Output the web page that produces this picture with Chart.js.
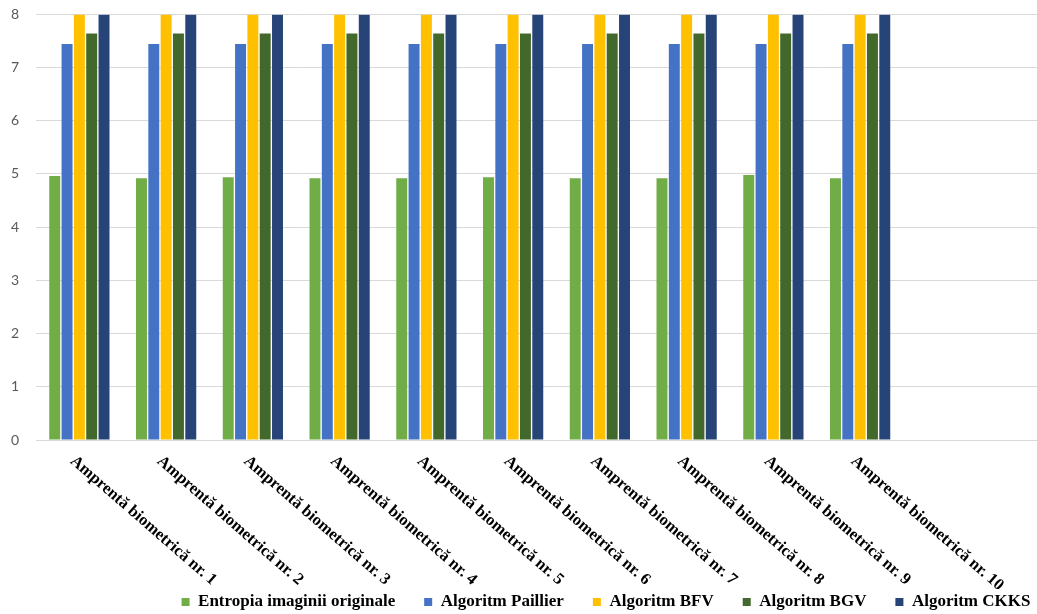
<!DOCTYPE html>
<html>
<head>
<meta charset="utf-8">
<title>Entropia amprentelor biometrice</title>
<script src="https://cdn.jsdelivr.net/npm/chart.js@4/dist/chart.umd.min.js"></script>
<style>
  html, body { margin: 0; padding: 0; background: #ffffff; overflow: hidden; }
  #wrap { width: 1037px; height: 614px; overflow: hidden; position: relative; }
  canvas { display: block; }
</style>
</head>
<body>
<div id="wrap"><canvas id="chart" width="1077" height="614"></canvas></div>
<script>
// Categories (two trailing empty slots keep the plot running on to the right)
const categories = [
  'Amprentă biometrică nr. 1',
  'Amprentă biometrică nr. 2',
  'Amprentă biometrică nr. 3',
  'Amprentă biometrică nr. 4',
  'Amprentă biometrică nr. 5',
  'Amprentă biometrică nr. 6',
  'Amprentă biometrică nr. 7',
  'Amprentă biometrică nr. 8',
  'Amprentă biometrică nr. 9',
  'Amprentă biometrică nr. 10',
  '',
  ''
];

const seriesNames = [
  'Entropia imaginii originale',
  'Algoritm Paillier',
  'Algoritm BFV',
  'Algoritm BGV',
  'Algoritm CKKS'
];

// Entropy values per fingerprint image
const entropiaOriginala = [4.96, 4.92, 4.94, 4.92, 4.92, 4.94, 4.92, 4.92, 4.98, 4.92];
const algoritmPaillier  = [7.44, 7.44, 7.44, 7.44, 7.44, 7.44, 7.44, 7.44, 7.44, 7.44];
const algoritmBFV       = [7.99, 7.99, 7.99, 7.99, 7.99, 7.99, 7.99, 7.99, 7.99, 7.99];
const algoritmBGV       = [7.64, 7.64, 7.64, 7.64, 7.64, 7.64, 7.64, 7.64, 7.64, 7.64];
const algoritmCKKS      = [7.99, 7.99, 7.99, 7.99, 7.99, 7.99, 7.99, 7.99, 7.99, 7.99];

const yMin = 0;
const yMax = 8;
const yStep = 1;

const seriesColors = ['#70AD47', '#4472C4', '#FFC000', '#43682B', '#264478'];
const seriesValues = [entropiaOriginala, algoritmPaillier, algoritmBFV, algoritmBGV, algoritmCKKS];

const serifBold = '"Liberation Serif", "Times New Roman", serif';

// Category labels slanted downwards to the right, starting at each tick
const slantedCategoryLabels = {
  id: 'slantedCategoryLabels',
  afterDraw(chart, args, opts) {
    const { ctx, chartArea } = chart;
    const xScale = chart.scales.x;
    ctx.save();
    ctx.font = `bold ${opts.size}px ${serifBold}`;
    ctx.fillStyle = opts.color;
    ctx.textAlign = 'left';
    ctx.textBaseline = 'middle';
    chart.data.labels.forEach((text, i) => {
      if (!text) return;
      ctx.save();
      ctx.translate(xScale.getPixelForValue(i) + opts.offsetX, chartArea.bottom + opts.offsetY);
      ctx.rotate(opts.angle * Math.PI / 180);
      ctx.fillText(text, 0, 0);
      ctx.restore();
    });
    ctx.restore();
  }
};

// Moves the legend row so it is centred on a chosen x position
const legendCentre = {
  id: 'legendCentre',
  afterLayout(chart, args, opts) {
    const lg = chart.legend;
    if (!lg) return;
    const dx = opts.centerX - (lg.left + lg.right) / 2;
    lg.left += dx;
    lg.right += dx;
  }
};

new Chart(document.getElementById('chart'), {
  type: 'bar',
  data: {
    labels: categories,
    datasets: seriesNames.map((name, i) => ({
      label: name,
      data: seriesValues[i],
      backgroundColor: seriesColors[i],
      borderWidth: 0,
      categoryPercentage: 0.71,
      barPercentage: 0.89
    }))
  },
  options: {
    responsive: false,
    animation: false,
    layout: { padding: { top: 14.3, left: 0, right: 0, bottom: -6.5 } },
    scales: {
      x: {
        grid: { display: false },
        border: { display: false },
        ticks: { display: false },
        afterFit(scale) { scale.height = 124.5; }
      },
      y: {
        min: yMin,
        max: yMax,
        ticks: {
          stepSize: yStep,
          padding: 17,
          color: '#595959',
          font: { family: 'Lato, "Open Sans", sans-serif', size: 14 }
        },
        grid: { color: '#d9d9d9', lineWidth: 1, drawTicks: false },
        border: { display: false },
        afterFit(scale) {
          scale.width = 36;
          scale.paddingTop = 0;
          scale.paddingBottom = 0;
        }
      }
    },
    plugins: {
      tooltip: { enabled: false },
      legend: {
        position: 'bottom',
        labels: {
          boxWidth: 8,
          boxHeight: 8,
          padding: 29,
          color: '#000000',
          font: { family: serifBold, size: 17, weight: 'bold' }
        }
      },
      legendCentre: { centerX: 606 },
      slantedCategoryLabels: { size: 16.5, color: '#000000', angle: 41, offsetX: -7, offsetY: 19 }
    }
  },
  plugins: [slantedCategoryLabels, legendCentre]
});
</script>
</body>
</html>
